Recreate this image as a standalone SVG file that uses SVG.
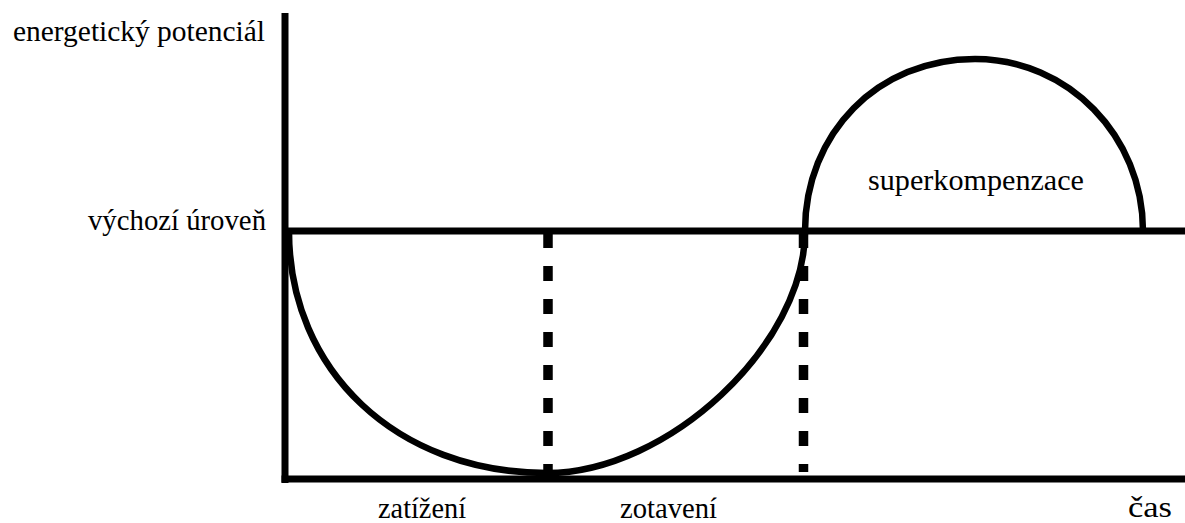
<svg xmlns="http://www.w3.org/2000/svg" width="1185" height="523" viewBox="0 0 1185 523">
<style>
.lbl{font-family:"Liberation Serif","Times New Roman",serif;font-size:28.5px;fill:#000}
.ax{stroke:#000;stroke-width:7;fill:none}
.crv{stroke:#000;stroke-width:6.5;fill:none}
.dash{stroke:#000;stroke-width:9.5;stroke-dasharray:15 18;fill:none}
</style>
<rect width="1185" height="523" fill="#fff"/>
<g id="axes">
<line class="ax" x1="285" y1="13" x2="285" y2="483"/>
<line class="ax" x1="281.5" y1="479" x2="1185" y2="479"/>
</g>
<g id="baseline-level">
<line class="ax" x1="285" y1="231" x2="1185" y2="231"/>
</g>
<g id="connectors">
<path class="crv" d="M289,231 C289,371 397,473 547,473 C668,473 805,345 805,231 C805,133 878,59 975,59 C1068,59 1143,136 1143,231"/>
<line class="dash" x1="548" y1="233" x2="548" y2="478"/>
<line class="dash" x1="803.5" y1="233" x2="803.5" y2="472"/>
</g>
<g id="label-y">
<text class="lbl" x="13" y="41" textLength="252" lengthAdjust="spacingAndGlyphs">energetický potenciál</text>
</g>
<g id="label-level">
<text class="lbl" x="88" y="230" textLength="178" lengthAdjust="spacingAndGlyphs">výchozí úroveň</text>
</g>
<g id="label-super">
<text class="lbl" x="868" y="190" textLength="216" lengthAdjust="spacingAndGlyphs">superkompenzace</text>
</g>
<g id="label-zatizeni">
<text class="lbl" x="378" y="518" textLength="88" lengthAdjust="spacingAndGlyphs">zatížení</text>
</g>
<g id="label-zotaveni">
<text class="lbl" x="620" y="518" textLength="97" lengthAdjust="spacingAndGlyphs">zotavení</text>
</g>
<g id="label-cas">
<text class="lbl" x="1128" y="517" textLength="44" lengthAdjust="spacingAndGlyphs">čas</text>
</g>
</svg>
